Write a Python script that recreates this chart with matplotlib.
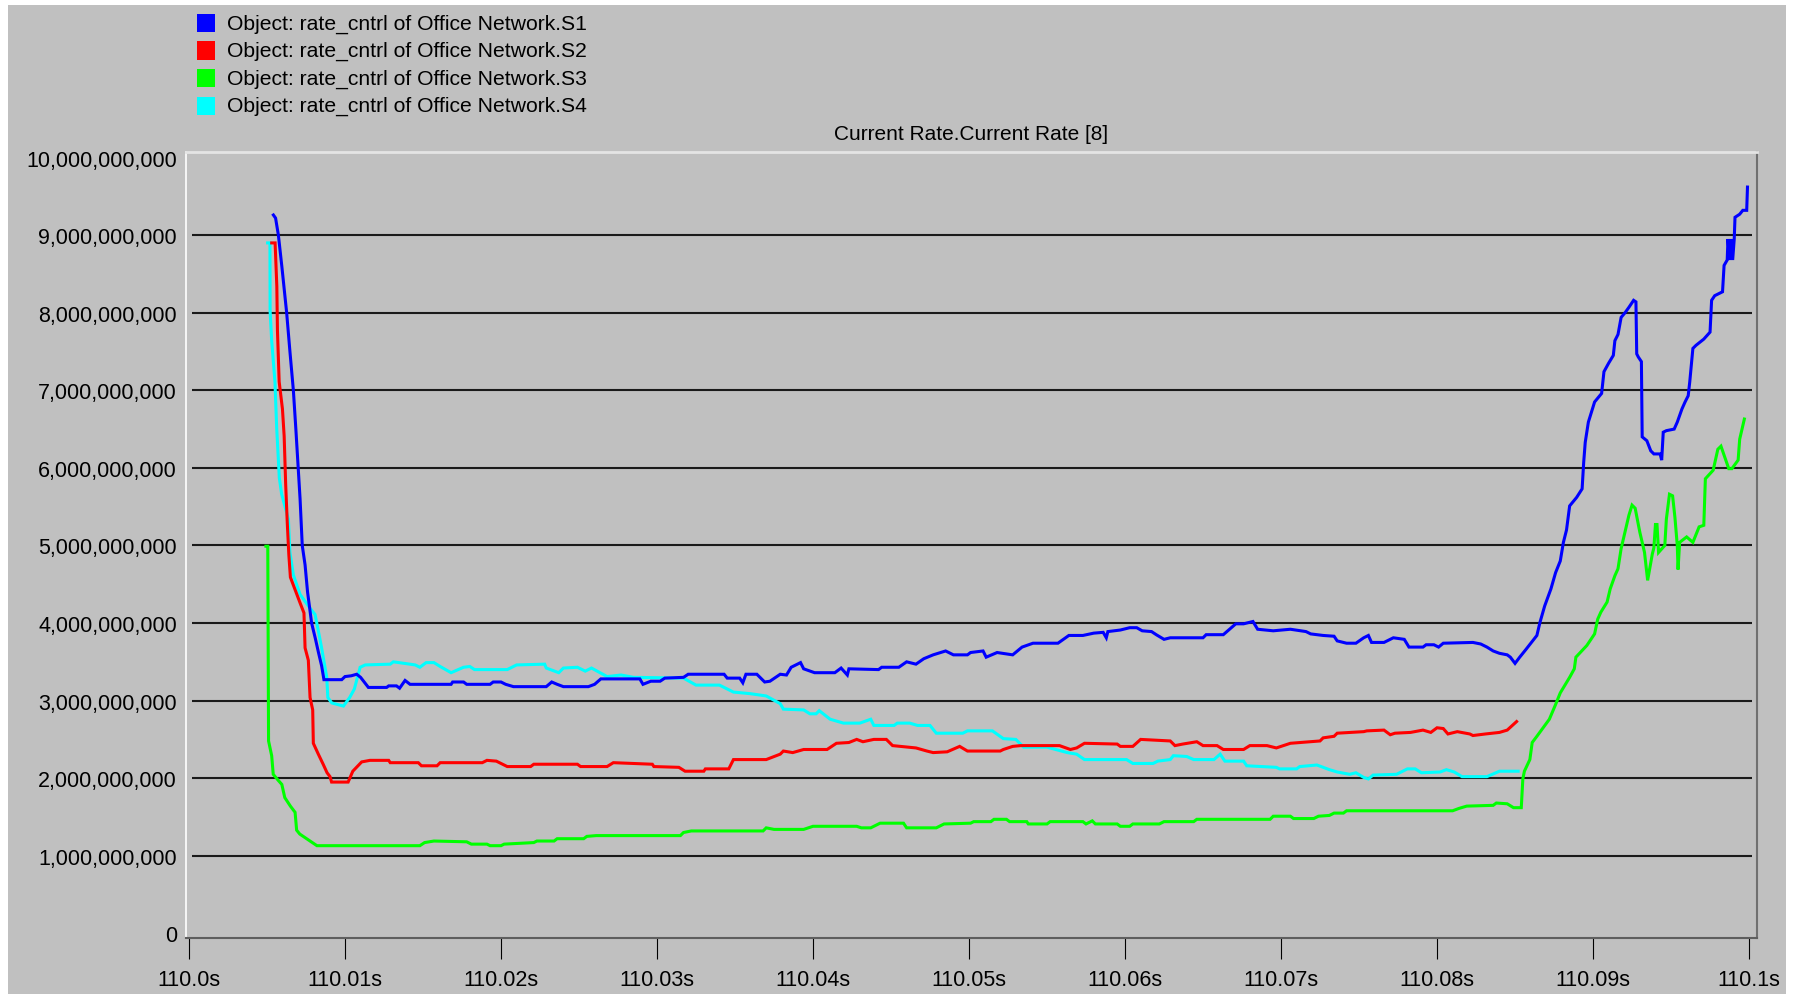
import numpy as np
import matplotlib
matplotlib.use("Agg")
import matplotlib.pyplot as plt
from matplotlib.patches import Rectangle
from matplotlib.ticker import FuncFormatter, FixedLocator

plt.rcParams['font.family'] = ['Liberation Sans', 'DejaVu Sans']

# ---------------- data (time offset in ms after 110.0 s, rate in 1e9 units) ----------------
series_names = ["Object: rate_cntrl of Office Network.S1",
                "Object: rate_cntrl of Office Network.S2",
                "Object: rate_cntrl of Office Network.S3",
                "Object: rate_cntrl of Office Network.S4"]
series_colors = ["#0000FF", "#FF0000", "#00FF00", "#00FFFF"]

s1_ms = [5.41, 5.55, 5.73, 5.95, 6.26, 6.47, 6.69, 6.85, 7.00, 7.12, 7.26, 7.44, 7.60, 7.86, 8.10,
         8.30, 8.50, 8.65,
         9.79, 10.0, 10.4, 10.75, 11.0, 11.5, 12.67, 12.8, 13.3, 13.5, 13.85, 14.17, 16.8, 16.9, 17.6,
         17.8, 19.3, 19.5, 20.0, 20.3, 20.8, 22.9, 23.25, 23.6, 24.0, 25.6, 26.0, 26.4, 28.9, 29.1,
         29.6, 30.2, 30.5, 31.7, 32.0, 34.3, 34.5, 35.3, 35.5, 35.7, 36.4, 36.9, 37.24,
         37.9, 38.3, 38.6, 39.2, 39.4, 40.1, 41.4, 41.8, 42.2, 42.3, 44.2, 44.4, 45.5, 46.0, 46.6,
         47.1, 47.7, 48.5, 49.0, 49.9, 50.1, 50.9, 51.1, 51.8, 52.8, 53.4, 54.1, 55.7, 56.4, 57.3,
         58.0, 58.6, 58.8, 58.9, 59.7, 60.3, 60.75, 61.1, 61.7, 62.0, 62.5, 62.9, 65.0, 65.2, 66.3,
         66.7, 67.1, 67.6, 68.2, 68.5, 69.5, 70.6, 71.6, 71.9, 72.7, 73.4, 73.6, 74.2, 74.8, 75.3,
         75.6, 75.8, 76.6, 77.2, 77.9, 78.2, 79.1, 79.3, 79.8, 80.1, 80.4, 82.3, 82.8, 83.2, 83.6,
         84.0, 84.5, 84.7, 85.0, 85.3, 85.7, 86.4, 86.6, 86.9, 87.3,
         87.6, 87.9, 88.1, 88.3, 88.5, 88.95, 89.3, 89.4, 89.5, 89.7, 89.9, 90.1, 90.55, 90.7, 91.0,
         91.3, 91.4, 91.6, 91.8, 92.05, 92.3, 92.6, 92.75, 92.8, 92.9, 93.1, 93.15, 93.45, 93.7, 93.9,
         94.3, 94.4, 94.5, 94.7, 95.2, 95.4, 95.7, 95.9, 96.1, 96.2, 96.4, 96.6, 97.1, 97.5, 97.6,
         97.8, 98.3, 98.4, 98.6, 98.65, 98.75, 98.85, 98.95, 99.05, 99.1, 99.4, 99.6, 99.85, 99.9]
s1_val = [9.26, 9.22, 9.00, 8.60, 8.00, 7.50, 7.00, 6.50, 6.00, 5.60, 5.00, 4.75, 4.40, 4.00, 3.80,
          3.62, 3.45, 3.27,
          3.27, 3.31, 3.32, 3.34, 3.30, 3.17, 3.17, 3.19, 3.19, 3.16, 3.26, 3.21, 3.21, 3.24, 3.24,
          3.21, 3.21, 3.24, 3.24, 3.21, 3.18, 3.18, 3.24, 3.21, 3.18, 3.18, 3.21, 3.28, 3.28, 3.21,
          3.25, 3.25, 3.29, 3.30, 3.34, 3.34, 3.29, 3.29, 3.23, 3.34, 3.34, 3.24, 3.25,
          3.34, 3.33, 3.43, 3.49, 3.41, 3.36, 3.36, 3.42, 3.33, 3.41, 3.40, 3.43, 3.43, 3.50, 3.47,
          3.54, 3.59, 3.64, 3.59, 3.59, 3.62, 3.64, 3.56, 3.62, 3.59, 3.69, 3.74, 3.74, 3.84, 3.84,
          3.87, 3.88, 3.81, 3.89, 3.91, 3.94, 3.94, 3.90, 3.89, 3.85, 3.79, 3.81, 3.81, 3.85, 3.85,
          3.92, 3.99, 3.99, 4.02, 3.92, 3.90, 3.92, 3.89, 3.86, 3.84, 3.83, 3.77, 3.74, 3.74, 3.81,
          3.84, 3.75, 3.75, 3.81, 3.79, 3.69, 3.69, 3.72, 3.72, 3.69, 3.74, 3.75, 3.73, 3.69, 3.64,
          3.61, 3.59, 3.56, 3.48, 3.56, 3.66, 3.84, 4.01, 4.22, 4.44,
          4.65, 4.80, 5.04, 5.20, 5.51, 5.62, 5.73, 6.07, 6.33, 6.59, 6.72, 6.85, 6.96, 7.24, 7.35,
          7.45, 7.64, 7.72, 7.94, 8.00, 8.07, 8.16, 8.14, 7.47, 7.43, 7.37, 6.40, 6.35, 6.22, 6.18,
          6.18, 6.10, 6.46, 6.48, 6.50, 6.59, 6.76, 6.85, 6.93, 7.11, 7.54, 7.58, 7.66, 7.75, 8.16,
          8.22, 8.27, 8.61, 8.68, 8.95, 8.68, 8.95, 8.68, 8.95, 9.23, 9.27, 9.32, 9.32, 9.62]

s2_ms = [5.30, 5.52, 5.63, 5.67, 5.78, 5.99, 6.10, 6.20, 6.30, 6.40, 6.50, 6.80, 7.10, 7.37, 7.44, 7.65,
         7.76, 7.93, 7.97, 8.29, 8.60, 8.85, 9.04, 9.14,
         10.2, 10.5, 11.07, 11.6, 12.8, 12.9, 14.7, 14.9, 15.9, 16.1, 18.8, 19.1, 19.7, 20.4, 21.9,
         22.1, 24.9, 25.1, 26.8, 27.2, 29.7, 29.8, 31.4, 31.8, 33.0, 33.1, 34.6, 34.9, 37.0, 37.9,
         38.1, 38.7, 39.4, 40.9, 41.5, 42.3, 42.8, 43.2, 43.9, 44.7, 45.1, 46.6, 47.3, 47.7, 48.6,
         49.4, 49.9, 52.0, 52.2, 52.8, 53.3, 55.8, 56.5, 56.9, 57.4, 59.5, 59.7, 60.5, 61.0, 62.9,
         63.2, 63.7, 64.6, 65.0, 65.9, 66.3, 67.6, 68.0,
         69.1, 69.7, 70.6, 72.5, 72.7, 73.4, 73.6, 75.3, 75.5, 76.6, 77.0, 77.3, 78.3, 79.1, 79.6,
         80.0, 80.4, 80.7, 81.3, 82.1, 82.3, 83.1, 84.0, 84.5, 85.1]
s2_val = [8.90, 8.90, 8.34, 7.77, 7.11, 6.76, 6.41, 5.77, 5.29, 4.88, 4.59, 4.43, 4.27, 4.13, 3.68, 3.52,
          3.04, 2.88, 2.45, 2.31, 2.18, 2.07, 2.02, 1.95,
          1.95, 2.09, 2.21, 2.23, 2.23, 2.20, 2.20, 2.16, 2.16, 2.20, 2.20, 2.23, 2.22, 2.15, 2.15,
          2.18, 2.18, 2.15, 2.15, 2.20, 2.18, 2.15, 2.14, 2.09, 2.09, 2.12, 2.12, 2.24, 2.24, 2.31,
          2.35, 2.33, 2.37, 2.37, 2.45, 2.46, 2.50, 2.47, 2.50, 2.50, 2.42, 2.39, 2.35, 2.33, 2.34,
          2.41, 2.35, 2.35, 2.37, 2.41, 2.42, 2.42, 2.37, 2.39, 2.45, 2.44, 2.41, 2.41, 2.50, 2.48,
          2.42, 2.44, 2.47, 2.42, 2.42, 2.37, 2.37, 2.42,
          2.42, 2.39, 2.45, 2.48, 2.52, 2.54, 2.58, 2.60, 2.61, 2.62, 2.56, 2.58, 2.59, 2.62, 2.59,
          2.65, 2.64, 2.57, 2.60, 2.57, 2.55, 2.57, 2.59, 2.62, 2.73]

s3_ms = [4.93, 5.05, 5.10, 5.30, 5.40, 5.73, 5.95, 6.14, 6.50, 6.80, 6.90, 7.10, 7.76, 8.20,
         14.8, 15.1, 15.7, 17.8, 18.1, 19.1, 19.3, 20.0, 20.2, 22.1, 22.3, 23.4, 23.6, 25.3, 25.5,
         26.1, 31.5, 31.7, 32.2, 36.8, 37.0, 37.5, 39.4, 40.0, 42.8, 43.1, 43.7, 44.3, 45.8, 46.0,
         47.9, 48.4, 50.1, 50.3, 51.4, 51.6, 52.4, 52.6, 53.7, 53.8, 55.0, 55.2, 57.3, 57.5, 57.9,
         58.1, 59.5, 59.7, 60.3, 60.5, 62.2, 62.5, 64.4, 64.6, 69.3, 69.5, 70.6, 70.8, 72.1, 72.4,
         73.1, 73.4, 74.0, 74.2, 81.0, 81.4, 81.9, 83.6, 83.8, 84.5, 84.9, 85.4, 85.5, 85.6, 85.95,
         86.1, 86.4, 87.2, 87.6, 87.9, 88.5, 88.8, 88.9, 89.6, 90.1, 90.3, 90.5, 90.9, 91.1, 91.4,
         91.6, 91.8, 92.0, 92.3, 92.5, 92.7, 93.0, 93.3, 93.5, 93.8, 93.9, 94.0, 94.1, 94.2, 94.6,
         94.7, 94.9, 95.1, 95.25, 95.4, 95.45, 95.55, 96.0, 96.4, 96.8, 97.1, 97.2, 97.7, 98.0, 98.2,
         98.7, 98.9, 99.3, 99.4, 99.7]
s3_val = [4.99, 4.99, 2.48, 2.29, 2.05, 1.97, 1.92, 1.75, 1.64, 1.56, 1.33, 1.28, 1.19, 1.13,
          1.13, 1.17, 1.19, 1.18, 1.15, 1.15, 1.13, 1.13, 1.15, 1.17, 1.19, 1.19, 1.22, 1.22, 1.25,
          1.26, 1.26, 1.30, 1.32, 1.32, 1.36, 1.34, 1.34, 1.38, 1.38, 1.36, 1.36, 1.42, 1.42, 1.36,
          1.36, 1.41, 1.42, 1.44, 1.44, 1.47, 1.47, 1.44, 1.44, 1.41, 1.41, 1.44, 1.44, 1.41, 1.45,
          1.41, 1.41, 1.38, 1.38, 1.41, 1.41, 1.44, 1.44, 1.47, 1.47, 1.51, 1.51, 1.48, 1.48, 1.51,
          1.52, 1.55, 1.55, 1.58, 1.58, 1.61, 1.64, 1.65, 1.68, 1.67, 1.62, 1.62, 1.99, 2.09, 2.24,
          2.46, 2.54, 2.76, 2.95, 3.10, 3.30, 3.41, 3.56, 3.71, 3.86, 4.05, 4.14, 4.27, 4.44, 4.61,
          4.70, 4.96, 5.13, 5.39, 5.52, 5.48, 5.17, 4.91, 4.55, 4.89, 4.97, 5.27, 5.27, 4.91, 5.00,
          5.34, 5.66, 5.64, 5.36, 5.00, 4.69, 5.04, 5.11, 5.04, 5.24, 5.26, 5.86, 5.97, 6.24, 6.28,
          5.99, 5.99, 6.10, 6.37, 6.63]

s4_ms = [5.04, 5.19, 5.20, 5.30, 5.51, 5.62, 5.79, 5.94, 6.37, 6.47, 6.69, 7.12, 7.65, 8.08, 8.29, 8.50,
         8.83, 8.90, 9.15, 9.90,
         10.3, 10.6, 10.97, 11.3, 12.9, 13.1, 14.5, 14.8, 15.2, 15.7, 16.1, 16.8, 17.6, 18.0, 18.3,
         20.4, 21.0, 22.8, 22.9, 23.7, 24.0, 24.9, 25.4, 25.8, 26.8, 27.7, 28.5, 31.7, 32.5, 34.0,
         34.9, 35.96, 37.0, 37.9,
         38.1, 39.4, 39.8, 40.2, 40.4, 41.1, 41.95, 43.0, 43.7, 43.9, 45.2, 45.4, 46.2, 46.7, 47.5,
         47.9, 49.6, 49.9, 51.5, 52.2, 53.0, 53.5, 55.0, 56.3, 56.9, 57.4, 60.1, 60.5, 61.8, 62.1,
         62.9, 63.1, 63.95, 64.4, 65.7, 66.1, 66.4, 67.6, 67.8,
         69.7, 69.9, 71.0, 71.2, 72.3, 73.1, 73.6, 74.4, 74.8, 75.3, 75.6, 75.9, 77.4, 78.1, 78.6,
         79.0, 80.2, 80.6, 81.1, 81.6, 83.2, 84.0, 85.2]
s4_val = [8.90, 8.90, 8.02, 7.64, 7.11, 6.52, 5.87, 5.66, 5.34, 4.91, 4.62, 4.37, 4.22, 4.11, 3.90, 3.68,
          3.30, 3.04, 2.97, 2.93,
          3.04, 3.15, 3.43, 3.46, 3.47, 3.50, 3.46, 3.43, 3.49, 3.49, 3.44, 3.36, 3.43, 3.44, 3.40,
          3.40, 3.46, 3.47, 3.42, 3.36, 3.42, 3.43, 3.38, 3.42, 3.31, 3.33, 3.30, 3.29, 3.20, 3.20,
          3.11, 3.09, 3.06, 2.96,
          2.89, 2.88, 2.83, 2.83, 2.87, 2.76, 2.71, 2.71, 2.76, 2.68, 2.68, 2.71, 2.71, 2.68, 2.68,
          2.58, 2.58, 2.61, 2.61, 2.51, 2.50, 2.40, 2.40, 2.33, 2.31, 2.24, 2.24, 2.19, 2.19, 2.22,
          2.24, 2.29, 2.28, 2.24, 2.24, 2.31, 2.22, 2.22, 2.16,
          2.14, 2.12, 2.12, 2.15, 2.17, 2.11, 2.08, 2.05, 2.07, 2.01, 1.99, 2.04, 2.05, 2.12, 2.12,
          2.07, 2.08, 2.11, 2.08, 2.02, 2.02, 2.09, 2.09]

y_ticks = [0, 1e9, 2e9, 3e9, 4e9, 5e9, 6e9, 7e9, 8e9, 9e9, 1e10]
x_ticks = [110.0, 110.01, 110.02, 110.03, 110.04, 110.05, 110.06, 110.07, 110.08, 110.09, 110.1]
x_tick_labels = ["110.0s", "110.01s", "110.02s", "110.03s", "110.04s", "110.05s",
                 "110.06s", "110.07s", "110.08s", "110.09s", "110.1s"]
title_text = "Current Rate.Current Rate [8]"

# ---------------- figure ----------------
W, H = 1796, 995
fig = plt.figure(figsize=(W / 100, H / 100), dpi=100, facecolor="white")
BG = "#C0C0C0"
bg_rect = Rectangle((8 / W, 0), (1786 - 8) / W, (995 - 6) / H,
                    transform=fig.transFigure, facecolor=BG, edgecolor="none", zorder=-10)
fig.patches.append(bg_rect)

ax_l, ax_r, ax_t, ax_b = 186, 1757, 153, 939
ax = fig.add_axes([ax_l / W, 1 - ax_b / H, (ax_r - ax_l) / W, (ax_b - ax_t) / H])
ax.set_facecolor(BG)
ax.set_zorder(1)

series = [(s1_ms, s1_val), (s2_ms, s2_val), (s3_ms, s3_val), (s4_ms, s4_val)]
order = [3, 2, 1, 0]
for i in order:
    ms, val = series[i]
    t = 110.0 + np.array(ms) / 1000.0
    v = np.array(val) * 1e9
    ax.plot(t, v, color=series_colors[i], lw=2.2, solid_joinstyle="miter", zorder=3 + (3 - i))

# horizontal grid lines at inner ticks
ax.hlines(y_ticks[1:-1], 0.0038, 0.9968, transform=ax.get_yaxis_transform(),
          colors="#1A1A1A", lw=1.5, zorder=2)

ax.set_xlim(110.0 - 0.000192, 110.0 + 0.10051)
ax.set_ylim(-0.06e9, 10.072e9)

ax.yaxis.set_major_locator(FixedLocator(y_ticks))
ax.yaxis.set_major_formatter(FuncFormatter(lambda v, p: f"{v:,.0f}"))
ax.set_xticks(x_ticks)
ax.set_xticklabels(x_tick_labels)
ax.tick_params(axis="y", length=0, pad=6.5, labelsize=15.5, labelcolor="#000000")
ax.tick_params(axis="x", direction="out", length=15, width=0.8, color="#000000",
               pad=7, labelsize=15.5, labelcolor="#000000")

for side, col, lw in [("left", "#FFFFFF", 1.2), ("top", "#E4E4E4", 2.0),
                      ("right", "#707070", 1.5), ("bottom", "#5E5E5E", 1.5)]:
    ax.spines[side].set_color(col)
    ax.spines[side].set_linewidth(lw)

# title
fig.text(971 / W, 1 - 135 / H, title_text, ha="center", va="center", fontsize=15, color="#000000")

# legend (manual, colour squares + labels)
row_y = [24.0, 51.5, 79.0, 106.5]
for name, col, yc in zip(series_names, series_colors, row_y):
    fig.patches.append(Rectangle((197 / W, 1 - (yc + 9) / H), 18 / W, 18 / H,
                                 transform=fig.transFigure, facecolor=col, edgecolor="none", zorder=2))
    fig.text(227 / W, 1 - yc / H, name, ha="left", va="center", fontsize=15.2, color="#000000")

fig.savefig("out.png", dpi=100, facecolor="white")
